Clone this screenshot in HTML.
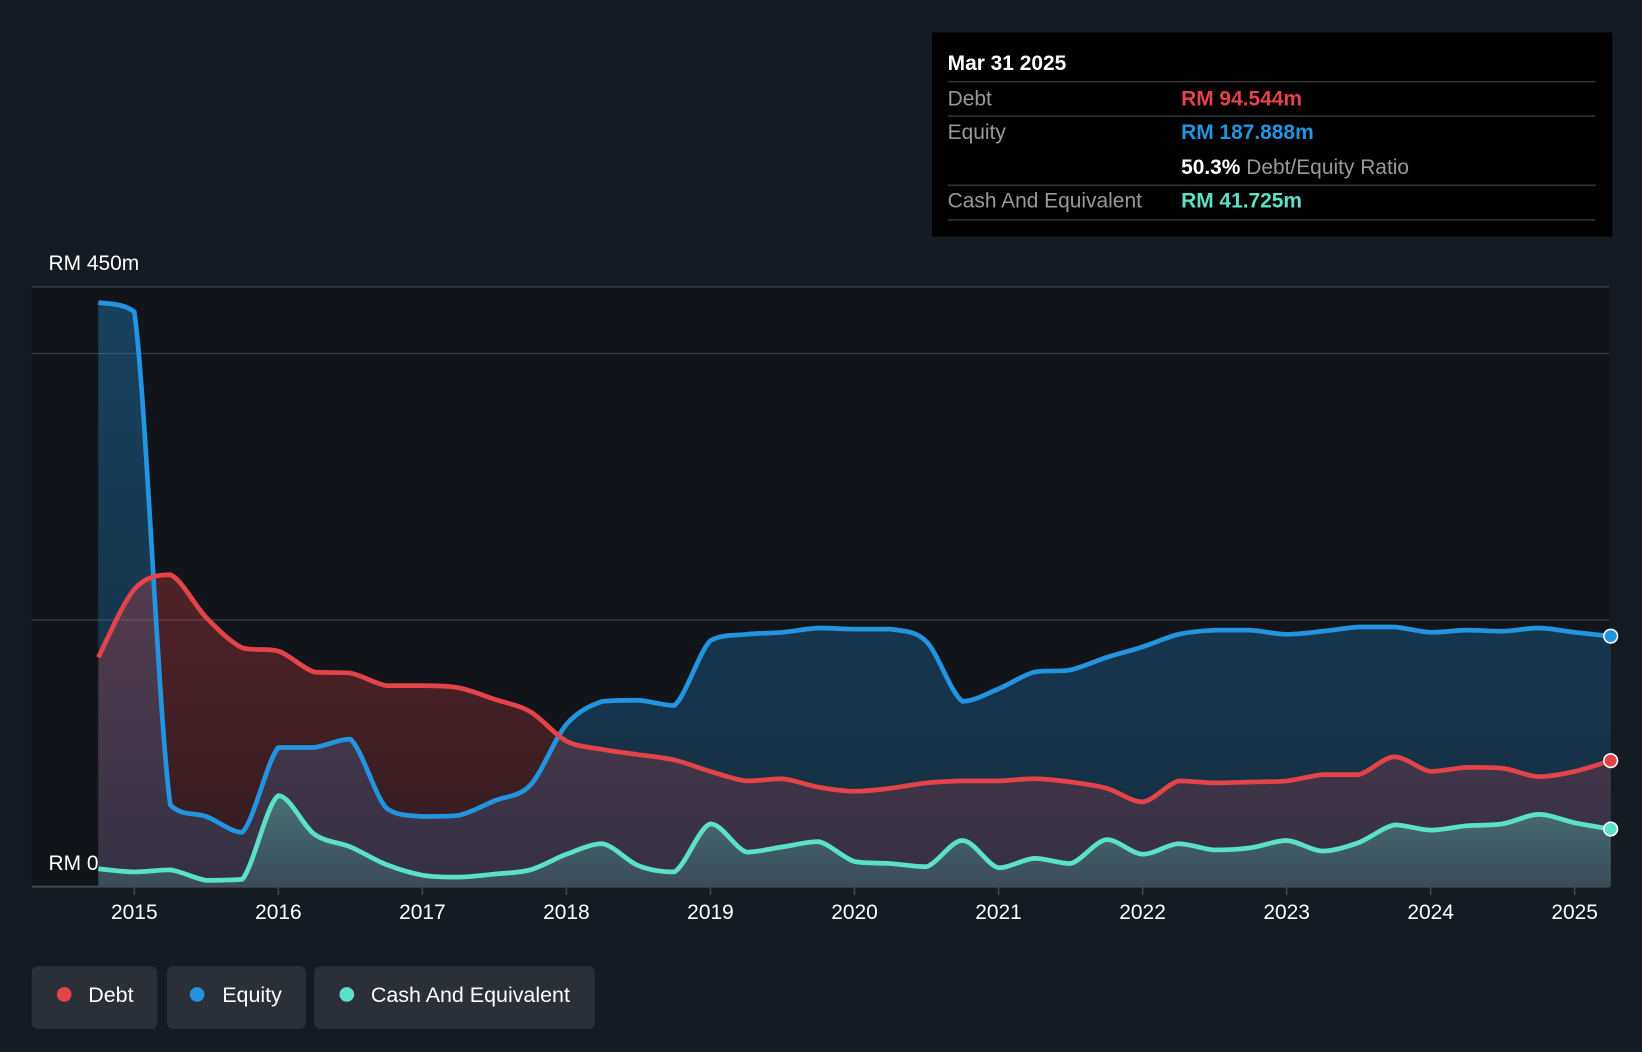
<!DOCTYPE html>
<html><head><meta charset="utf-8"><style>
html,body{margin:0;padding:0;background:#151b23;}
svg{display:block;font-family:"Liberation Sans",sans-serif;}
</style></head><body>
<svg width="1642" height="1052" viewBox="0 0 1568 1005">
<rect x="0" y="0" width="1568" height="1005" fill="#151b23"/>
<rect x="30" y="274" width="1507" height="573" fill="#111419"/>
<g id="grid"></g>
<g id="series"></g>
<g id="xaxis"></g>
<text x="46" y="258" fill="#fff" font-size="20">RM 450m</text>
<text x="46" y="831" fill="#fff" font-size="20">RM 0</text>
<g>
<rect x="890" y="31" width="650" height="195" fill="#000"/>
<text x="905" y="67" fill="#fff" font-size="20" font-weight="bold">Mar 31 2025</text>
<line x1="905" y1="78" x2="1524" y2="78" stroke="#333" stroke-width="1.5"/>
<text x="905" y="101" fill="#999" font-size="20">Debt</text>
<text x="1128" y="101" fill="#e5434a" font-size="20" font-weight="bold">RM 94.544m</text>
<line x1="905" y1="111" x2="1524" y2="111" stroke="#333" stroke-width="1.5"/>
<text x="905" y="133" fill="#999" font-size="20">Equity</text>
<text x="1128" y="133" fill="#2394e0" font-size="20" font-weight="bold">RM 187.888m</text>
<text x="1128" y="166" fill="#999" font-size="20"><tspan fill="#fff" font-weight="bold">50.3%</tspan> Debt/Equity Ratio</text>
<line x1="905" y1="177" x2="1524" y2="177" stroke="#333" stroke-width="1.5"/>
<text x="905" y="198" fill="#999" font-size="20">Cash And Equivalent</text>
<text x="1128" y="198" fill="#5ce1c9" font-size="20" font-weight="bold">RM 41.725m</text>
<line x1="905" y1="210" x2="1524" y2="210" stroke="#333" stroke-width="1.5"/>
</g>
<g>
<rect x="30" y="923" width="120" height="60" rx="6" fill="#2a2f38"/>
<circle cx="61" cy="950" r="7" fill="#e5434a"/>
<text x="84" y="957" fill="#fff" font-size="20.5">Debt</text>
</g>
<g>
<rect x="159" y="923" width="133" height="60" rx="6" fill="#2a2f38"/>
<circle cx="188" cy="950" r="7" fill="#2394e0"/>
<text x="212" y="957" fill="#fff" font-size="20.5">Equity</text>
</g>
<g>
<rect x="300" y="923" width="268" height="60" rx="6" fill="#2a2f38"/>
<circle cx="331" cy="950" r="7" fill="#5ce1c9"/>
<text x="354" y="957" fill="#fff" font-size="20.5">Cash And Equivalent</text>
</g>
</svg>
<script>
const startYear = 2014.75;
const stepYear = 0.25;
const xTicks = [2015,2016,2017,2018,2019,2020,2021,2022,2023,2024,2025];
const gridValues = [200,400,450];
const equity = [438.3,431.2,61.3,52.6,40.8,104.4,104.4,110.7,58.9,52.6,53.4,64.4,76.2,121.7,139.0,139.8,135.9,184.6,189.3,190.8,194.0,193.2,193.2,183.8,139.0,148.4,161.0,162.6,172.0,179.9,189.3,192.4,192.4,189.3,191.6,194.8,194.8,190.8,192.4,191.6,194.0,190.8,187.9];
const debt = [172.0,223.1,234.0,201.8,179.1,176.7,161.0,160.2,150.8,150.8,149.2,140.6,131.2,109.2,102.9,99.0,95.0,86.4,79.3,80.9,74.6,71.5,73.8,77.8,79.3,79.3,80.9,78.5,73.8,63.6,79.3,77.8,78.5,79.3,84.0,84.0,97.4,86.4,89.5,88.8,82.5,86.4,94.5];
const cash = [13.4,11.0,12.6,4.7,5.5,68.3,39.3,29.8,16.5,8.6,7.1,9.4,12.6,24.3,32.2,15.7,11.0,47.1,25.9,29.8,33.8,18.8,17.3,14.9,34.6,14.1,21.2,17.3,35.3,24.3,32.2,27.5,29.1,34.6,26.7,33.0,46.3,42.4,45.6,47.1,54.2,47.9,43.2];

const NS='http://www.w3.org/2000/svg';
const X = yr => 128 + (yr-2015)*137.6;
const Y = v => 847 - v*(573/450);
function mk(tag, attrs, parent){const e=document.createElementNS(NS,tag);for(const k in attrs)e.setAttribute(k,attrs[k]);parent.appendChild(e);return e;}
const grid=document.getElementById('grid');
gridValues.forEach(v=>{
  const l=mk('line',{x1:30,x2:1537,y1:Y(v),y2:Y(v),stroke:'#3a3f47','stroke-width':1.2},grid);
  
  
});
const xa=document.getElementById('xaxis');
const ax=mk('line',{x1:30,x2:1537,y1:847,y2:847,stroke:'#444a53','stroke-width':2},xa);


xTicks.forEach(t=>{
  mk('line',{x1:X(t),x2:X(t),y1:847,y2:855,stroke:'#444a53','stroke-width':1.5},xa);
  const tx=mk('text',{x:X(t),y:878,fill:'#fff','font-size':20,'text-anchor':'middle'},xa);
  tx.textContent=t;
  
  
});
function pts(arr){return arr.map((v,i)=>[X(startYear+i*stepYear),Y(v)]);}
function path(p){
  let d='M'+p[0][0]+','+p[0][1];
  for(let i=0;i<p.length-1;i++){
    const p0=p[i-1]||p[i],p1=p[i],p2=p[i+1],p3=p[i+2]||p2;
    const t=0.16;
    let c1y=p1[1]+(p2[1]-p0[1])*t, c2y=p2[1]-(p3[1]-p1[1])*t;
    const lo=Math.min(p1[1],p2[1]),hi=Math.max(p1[1],p2[1]);
    c1y=Math.max(lo,Math.min(hi,c1y));c2y=Math.max(lo,Math.min(hi,c2y));
    d+=' C'+(p1[0]+(p2[0]-p0[0])*t)+','+c1y+' '+(p2[0]-(p3[0]-p1[0])*t)+','+c2y+' '+p2[0]+','+p2[1];
  }
  return d;
}
const sg=document.getElementById('series');
const defs=mk('defs',{},sg);
[['gE','#2394e0',0.35,0.2],['gD','#e5434a',0.3,0.15],['gC','#5ce1c9',0.35,0.15]].forEach(([id,c,a,b])=>{
  const g=mk('linearGradient',{id:id,x1:0,y1:0,x2:0,y2:1},defs);
  mk('stop',{offset:0,'stop-color':c,'stop-opacity':a},g);
  mk('stop',{offset:1,'stop-color':c,'stop-opacity':b},g);
});
const series=[['equity',equity,'#2394e0','gE'],['debt',debt,'#e5434a','gD'],['cash',cash,'#5ce1c9','gC']];
series.forEach(([n,arr,c,g])=>{
  const p=pts(arr);const d=path(p);
  const a=mk('path',{d:d+' L'+p[p.length-1][0]+',847 L'+p[0][0]+',847 Z',fill:'url(#'+g+')'},sg);
  
  
});
series.forEach(([n,arr,c])=>{
  const p=pts(arr);
  const l=mk('path',{d:path(p),fill:'none',stroke:c,'stroke-width':4.5,'stroke-linejoin':'round'},sg);
  
  
  const last=p[p.length-1];
  const dot=mk('circle',{cx:last[0],cy:last[1],r:6.5,fill:c,stroke:'#fff','stroke-width':1.5},sg);
  
  
});
</script>
</body></html>
